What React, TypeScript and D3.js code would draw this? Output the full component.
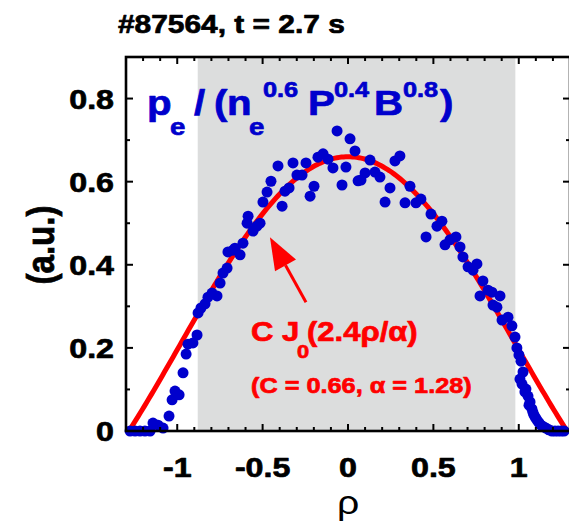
import React from "react";
import * as d3 from "d3";

// ---- data ----
const rhoValues = [
  -1.276, -1.247, -1.218, -1.189, -1.159, -1.142, -1.112, -1.083, -1.048, -1.03, -1.013, -0.989,
  -0.966, -0.948, -0.937, -0.908, -0.884, -0.878, -0.861, -0.837, -0.82, -0.796, -0.767, -0.749,
  -0.732, -0.708, -0.703, -0.673, -0.662, -0.632, -0.615, -0.585, -0.591, -0.556, -0.533, -0.515,
  -0.498, -0.474, -0.451, -0.41, -0.386, -0.369, -0.345, -0.322, -0.299, -0.269, -0.246, -0.222,
  -0.199, -0.176, -0.146, -0.117, -0.088, -0.064, -0.035, -0.012, 0.012, 0.041, 0.059, 0.076,
  0.1, 0.129, 0.158, 0.187, 0.217, 0.246, 0.275, 0.304, 0.334, 0.363, 0.398, 0.427, 0.457,
  0.486, 0.521, 0.55, 0.568, 0.597, 0.632, 0.656, 0.673, 0.703, 0.732, 0.755, 0.79, 0.82,
  0.773, 0.843, 0.89, 0.849, 0.872, 0.902, 0.937, 0.96, 0.978, 0.989, 1.001, 1.013, 1.025,
  1.007, 1.019, 1.042, 1.054, 1.066, 1.077, 1.089, 1.107, 1.13, 1.159, 1.194, 1.23, 1.265,
  1.036, 1.06, 1.083, 1.098, 1.118, 1.145, 1.176, 1.212, 1.248,
];
const pressureValues = [
  0, 0, 0, 0, 0, 0.019, 0.014, 0.007, 0.036, 0.075, 0.096, 0.087,
  0.14, 0.185, 0.209, 0.212, 0.231, 0.284, 0.296, 0.306, 0.322, 0.332, 0.325, 0.356,
  0.38, 0.392, 0.431, 0.435, 0.44, 0.424, 0.452, 0.517, 0.5, 0.481, 0.493, 0.5,
  0.551, 0.575, 0.601, 0.638, 0.541, 0.577, 0.585, 0.645, 0.616, 0.616, 0.645, 0.565,
  0.589, 0.659, 0.667, 0.654, 0.633, 0.722, 0.592, 0.635, 0.703, 0.674, 0.602, 0.604,
  0.621, 0.652, 0.623, 0.611, 0.551, 0.585, 0.65, 0.662, 0.549, 0.589, 0.549, 0.558, 0.467,
  0.522, 0.493, 0.505, 0.448, 0.46, 0.467, 0.443, 0.419, 0.395, 0.387, 0.402, 0.361, 0.339,
  0.325, 0.334, 0.325, 0.303, 0.298, 0.267, 0.274, 0.253, 0.226, 0.2, 0.183, 0.168, 0.142,
  0.125, 0.113, 0.101, 0.084, 0.07, 0.053, 0.038, 0.026, 0.014, 0.007, 0, 0, 0,
  0.094, 0.062, 0.045, 0.032, 0.02, 0.01, 0.003, 0, 0,
];
const fitC = 0.66;
const fitAlpha = 1.28;
const shadedRange = [-0.88, 0.98];
const xTickValues = [-1, -0.5, 0, 0.5, 1];
const xTickLabels = ["-1", "-0.5", "0", "0.5", "1"];
const yTickValues = [0, 0.2, 0.4, 0.6, 0.8];
const yTickLabels = ["0", "0.2", "0.4", "0.6", "0.8"];
const titleText = "#87564, t = 2.7 s";
const xLabel = "ρ";
const yLabel = "(a.u.)";

// Bessel J0 via power series (the fitted model named in the chart)
function besselJ0(x: number): number {
  let sum = 0;
  let term = 1;
  const q = (x / 2) * (x / 2);
  for (let k = 0; k < 30; k++) {
    if (k > 0) term *= -q / (k * k);
    sum += term;
  }
  return sum;
}

const W = 569;
const H = 525;
const SX = 1.15; // horizontal stretch of glyphs in the reference
const FONT = "'Liberation Sans', Arial, Helvetica, sans-serif";
const BLUE = "#0000cc";
const RED = "#ff0000";

export default function App() {
  const x = d3.scaleLinear().domain([-1.3, 1.3]).range([126, 570]);
  const y = d3.scaleLinear().domain([0, 0.9]).range([431, 57]);

  const fitRho = d3.range(0, 201).map((i) => -fitAlpha + (2 * fitAlpha * i) / 200);
  const fitLine = d3
    .line<number>()
    .x((r) => x(r))
    .y((r) => y(Math.max(0, fitC * besselJ0((2.4 * r) / fitAlpha))));

  const xMinor = d3.range(-13, 14).map((i) => i / 10);
  const yMinor = d3.range(0, 10).map((i) => i / 10);
  const isMajorX = (v: number) => Math.abs(v * 2 - Math.round(v * 2)) < 1e-6;
  const isMajorY = (v: number) => Math.abs(v * 5 - Math.round(v * 5)) < 1e-6;

  const [x0, x1] = x.range();
  const [yb, yt] = y.range();

  // annotation arrow (data coords)
  const arrowTail = [-0.246, 0.31];
  const arrowTip = [-0.457, 0.466];
  const ax0 = x(arrowTail[0]), ay0 = y(arrowTail[1]);
  const ax1 = x(arrowTip[0]), ay1 = y(arrowTip[1]);
  const ang = Math.atan2(ay1 - ay0, ax1 - ax0);
  const headLen = 32, headW = 12;
  const bx = ax1 - headLen * Math.cos(ang), by = ay1 - headLen * Math.sin(ang);
  const head = [
    [ax1, ay1],
    [bx + headW * Math.sin(ang), by - headW * Math.cos(ang)],
    [bx - headW * Math.sin(ang), by + headW * Math.cos(ang)],
  ];

  const T = (props: any) => {
    const { px, py, size, children, anchor, color, weight, sw } = props;
    const c = color ?? "#000";
    const bold = (weight ?? "bold") === "bold";
    return (
      <text
        transform={`translate(${px},${py}) scale(${SX},1)`}
        fontSize={size}
        fontWeight={weight ?? "bold"}
        fill={c}
        stroke={bold ? c : "none"}
        strokeWidth={bold ? sw ?? 0.7 : 0}
        strokeLinejoin="round"
        textAnchor={anchor ?? "start"}
        fontFamily={FONT}
      >
        {children}
      </text>
    );
  };

  return (
    <svg width={W} height={H} style={{ position: "absolute", left: 0, top: 0, background: "#fff" }}>
      <rect x={0} y={0} width={W} height={H} fill="#fff" />
      {/* shaded band */}
      <rect
        x={x(shadedRange[0])}
        y={yt}
        width={x(shadedRange[1]) - x(shadedRange[0])}
        height={yb - yt}
        fill="#dcdddd"
      />
      {/* fit curve */}
      <path d={fitLine(fitRho) ?? ""} fill="none" stroke={RED} strokeWidth={5} />
      {/* data points */}
      {rhoValues.map((r, i) => (
        <circle key={i} cx={x(r)} cy={y(pressureValues[i])} r={5.5} fill={BLUE} />
      ))}
      {/* frame */}
      <rect x={x0} y={yt} width={x1 - x0} height={yb - yt} fill="none" stroke="#000" strokeWidth={2.6} />
      {/* ticks */}
      {xMinor.map((v, i) => {
        const len = isMajorX(v) ? 7 : 4;
        return (
          <g key={"xt" + i} stroke="#000" strokeWidth={2}>
            <line x1={x(v)} x2={x(v)} y1={yb} y2={yb - len} />
            <line x1={x(v)} x2={x(v)} y1={yt} y2={yt + len} />
          </g>
        );
      })}
      {yMinor.map((v, i) => {
        const len = isMajorY(v) ? 7 : 4;
        return (
          <g key={"yt" + i} stroke="#000" strokeWidth={2}>
            <line x1={x0} x2={x0 + len} y1={y(v)} y2={y(v)} />
            <line x1={x1} x2={x1 - len} y1={y(v)} y2={y(v)} />
          </g>
        );
      })}
      {/* tick labels */}
      {xTickValues.map((v, i) => (
        <T key={"xl" + i} px={x(v)} py={477} size={28} anchor="middle">
          {xTickLabels[i]}
        </T>
      ))}
      {yTickValues.map((v, i) => (
        <T key={"yl" + i} px={114} py={y(v) + 10} size={28} anchor="end">
          {yTickLabels[i]}
        </T>
      ))}
      {/* axis labels */}
      <T px={348} py={514} size={34} anchor="middle" weight="normal">
        {xLabel}
      </T>
      <text
        transform={`translate(54,245) scale(${SX},1) rotate(-90)`}
        fontSize={33}
        fontWeight="bold"
        stroke="#000"
        strokeWidth={0.7}
        textAnchor="middle"
        fontFamily={FONT}
      >
        {yLabel}
      </text>
      {/* title */}
      <T px={118} py={33} size={26}>
        {titleText}
      </T>
      {/* blue label */}
      <g>
        <T px={147} py={115} size={35} color={BLUE}>p</T>
        <T px={170} py={135} size={24} color={BLUE}>e</T>
        <T px={194} py={115} size={35} color={BLUE}>/</T>
        <T px={214} py={115} size={35} color={BLUE}>(</T>
        <T px={227} py={115} size={35} color={BLUE}>n</T>
        <T px={249} py={135} size={24} color={BLUE}>e</T>
        <T px={263} py={97} size={22} color={BLUE}>0.6</T>
        <T px={308} py={115} size={35} color={BLUE}>P</T>
        <T px={334} py={97} size={22} color={BLUE}>0.4</T>
        <T px={374} py={115} size={35} color={BLUE}>B</T>
        <T px={403} py={97} size={22} color={BLUE}>0.8</T>
        <T px={440} py={115} size={35} color={BLUE}>)</T>
      </g>
      {/* arrow */}
      <line x1={ax0} y1={ay0} x2={bx} y2={by} stroke={RED} strokeWidth={3} />
      <polygon points={head.map((p) => p.join(",")).join(" ")} fill={RED} />
      {/* red labels */}
      <T px={251} py={341} size={27} color={RED}>C J</T>
      <T px={297} py={358} size={19} color={RED}>0</T>
      <T px={307} py={341} size={27} color={RED}>(2.4ρ/α)</T>
      <T px={251} py={393} size={22} color={RED}>(C = 0.66, α = 1.28)</T>
    </svg>
  );
}
